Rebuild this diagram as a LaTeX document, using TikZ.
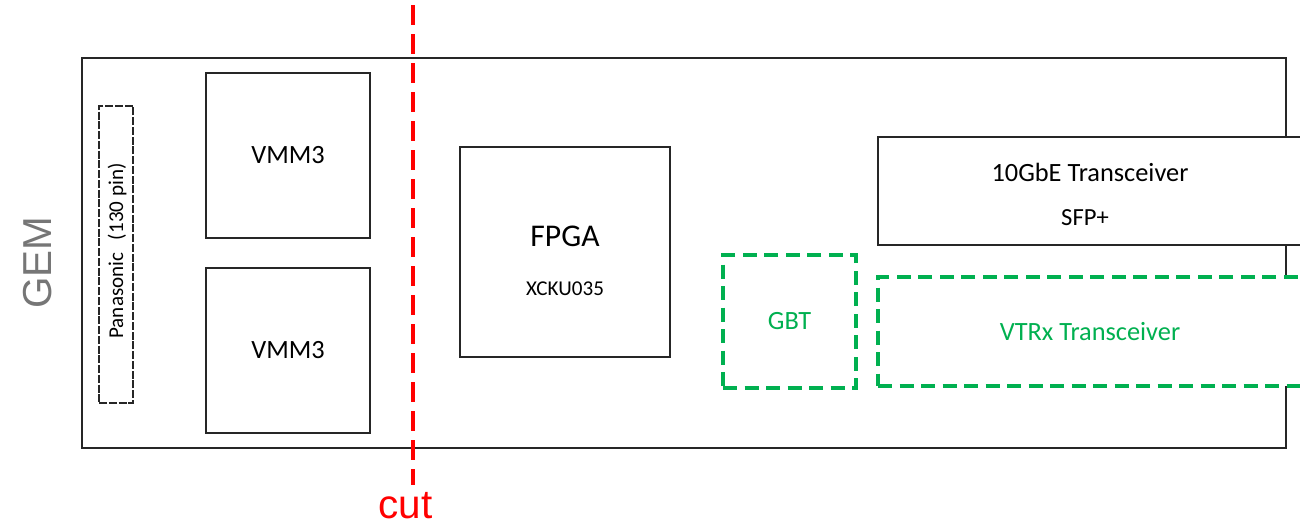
\documentclass[tikz,border=0pt]{standalone}
\usepackage{fontspec}
\setmainfont{Carlito}
\newfontfamily\arialfont{Liberation Sans}
\usepackage{xcolor}
\usetikzlibrary{calc}
\definecolor{gbtgreen}{RGB}{0,176,80}
\definecolor{gemgray}{RGB}{118,118,118}

\begin{document}
\begin{tikzpicture}[
  box/.style={draw=black!85, line width=0.9pt, fill=white, align=center, inner sep=0pt, font=\fontsize{15}{18}\selectfont},
  optbox/.style={draw=gbtgreen, line width=1.8pt, dash pattern=on 2.8mm off 1.5mm, fill=white, align=center, inner sep=0pt, text=gbtgreen, font=\fontsize{15}{18}\selectfont},
  conn/.style={draw=black!85, line width=0.6pt, dash pattern=on 1.6mm off 0.35mm, inner sep=0pt}]
\useasboundingbox (0,0) rectangle (26,-10.56);
\clip (0,0) rectangle (26,-10.56);
% board outline
\node[draw=black!85, line width=0.9pt, minimum width=24.08cm, minimum height=7.8cm, inner sep=0pt] (board) at (13.68,-5.06) {};
\node[rotate=90, text=gemgray, font=\arialfont\fontsize{23}{26}\selectfont] (gem) at (0.75,-5.25) {GEM};
% front end
\node[conn, minimum width=0.68cm, minimum height=5.94cm] (pana) at (2.32,-5.09) {};
\node[rotate=90, font=\fontsize{12}{14}\selectfont] (panaText) at ($(pana.center)+(0.02,0.07)$) {Panasonic\hspace{0.6em}(130 pin)};
\node[box, minimum width=3.28cm, minimum height=3.3cm] (vmmA) at (5.76,-3.11) {VMM3};
\node[box, minimum width=3.28cm, minimum height=3.3cm] (vmmB) at (5.76,-7.01) {VMM3};
% readout
\node[box, minimum width=4.2cm, minimum height=4.2cm] (fpga) at (11.3,-5.04) {};
\node[font=\fontsize{18}{21}\selectfont] (fpgaName) at ($(fpga.center)+(0,0.32)$) {FPGA};
\node[font=\fontsize{12}{14}\selectfont] (fpgaPart) at ($(fpga.center)+(0,-0.74)$) {XCKU035};
\node[optbox, minimum width=2.66cm, minimum height=2.66cm] (gbt) at (15.79,-6.43) {GBT};
\node[box, minimum width=8.48cm, minimum height=2.16cm] (sfp) at (21.8,-3.82) {};
\node[font=\fontsize{15}{18}\selectfont] (sfpName) at ($(sfp.center)+(0,0.38)$) {10GbE Transceiver};
\node[font=\fontsize{14}{16}\selectfont] (sfpPart) at ($(sfp.center)+(-0.1,-0.53)$) {SFP+};
\node[optbox, minimum width=8.48cm, minimum height=2.18cm] (vtrx) at (21.8,-6.63) {VTRx Transceiver};
% cut line
\coordinate (cutTop) at (8.26,-0.1);
\node[text=red, anchor=base, inner sep=0pt, font=\arialfont\fontsize{23}{26}\selectfont] (cut) at (8.11,-10.36) {cut};
\draw[red, line width=2.3pt, dash pattern=on 4mm off 1.8mm] (cutTop) -- (cutTop |- 0,-9.7);
\end{tikzpicture}
\end{document}
